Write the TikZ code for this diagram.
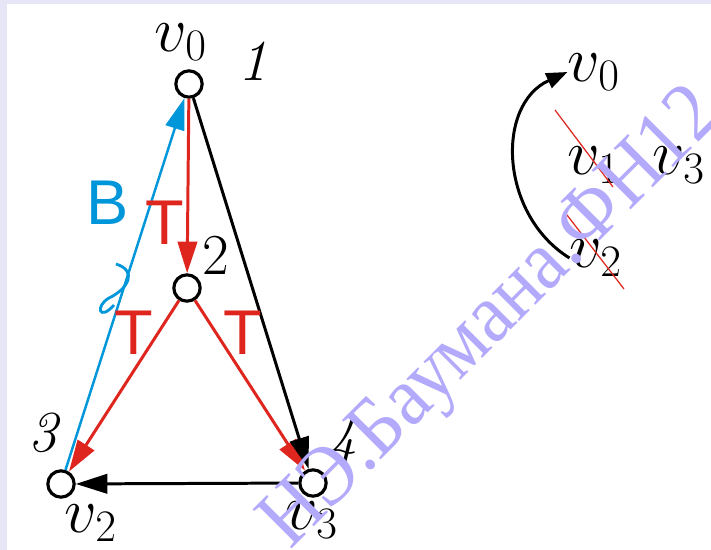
\RequirePackage{fix-cm}
\documentclass[tikz,border=0pt]{standalone}
\usepackage{fontspec}
\newfontfamily\labelsans{Liberation Sans}
\newfontfamily\markserif{Liberation Serif}
\usepackage{tikz}
\usetikzlibrary{arrows.meta, positioning}
\definecolor{treered}{RGB}{222,38,30}
\definecolor{backblue}{RGB}{0,150,218}
\definecolor{markviolet}{RGB}{180,170,252}
\definecolor{slideframe}{RGB}{230,230,246}

\begin{document}
\begin{tikzpicture}[x=0.02cm, y=-0.02cm,
    vertex/.style={circle, draw=black, line width=1.8pt, fill=white, minimum size=15pt, inner sep=0pt},
    mlabel/.style={font=\fontsize{30}{36}\selectfont, inner sep=0pt},
    vname/.style={mlabel, scale=1.22},
    elabel/.style={font=\labelsans\fontsize{36}{40}\selectfont, inner sep=0pt},
    arrow/.style={-{Triangle[length=18pt, width=11pt]}, line width=1.7pt},
    tree/.style={arrow, treered},
    back/.style={arrow, backblue, line width=1.4pt},
    strike/.style={treered, line width=0.7pt}
]
% slide background
\useasboundingbox (0,0) rectangle (711,550);
\fill[slideframe] (0,0) rectangle (711,550);
\fill[white] (7,4) rectangle (711,550);

% vertices
\node[vertex] (v0) at (189,84) {};
\node[vertex] (n2) at (187,288) {};
\node[vertex] (v2) at (61,484) {};
\node[vertex] (v3) at (313,483) {};

% vertex names and numbers
\node[vname] (lv0) at (181,42) {$v_0$};
\node[vname] (lv2) at (91,523) {$v_2$};
\node[vname] (lv3) at (312,520) {$v_3$};
\node[mlabel, scale=1.1] (k1) at (253,61) {\textit{1}};
\node[mlabel, scale=1.1] (k2) at (216,255) {2};
\node[mlabel, scale=1.1] (k3) at (45,433) {\textit{3}};
\node[mlabel, scale=1.1] (k4) at (343,440) {\textit{4}};

% edges
\draw[back] (v2) -- (v0);
\draw[tree] (v0) -- (n2);
\draw[tree] (n2) -- (v2);
\draw[tree] (n2) -- (v3);
\draw[arrow] (v0) -- (v3);
\draw[arrow] (v3) -- (v2);
\draw[backblue, line width=1.6pt] (116,264) .. controls (138,271) and (128,289) .. (109,298)
    .. controls (95,306) and (99,322) .. (114,305);

\node[elabel, text=backblue] (lb) at (108,203) {B};
\node[elabel, text=treered] (lt1) at (165,223) {T};
\node[elabel, text=treered] (lt2) at (134,333) {T};
\node[elabel, text=treered] (lt3) at (243,333) {T};

% stack on the right
\node[vname] (rv0) at (594,72) {$v_0$};
\node[vname] (rv1) at (594,165) {$v_1$};
\node[vname] (rv3) at (679,165) {$v_3$};
\node[vname] (rv2) at (596,258) {$v_2$};
\draw[-{Triangle[length=12pt, width=9pt]}, line width=1.7pt] (rv2.west) .. controls (500,215) and (495,105) .. (rv0.west);
\draw[strike] (555,110) -- (613,187);
\draw[strike] (567,215) -- (624,289);

% watermark
\node[font=\markserif\fontsize{48}{52}\selectfont, text=markviolet, rotate=45, xscale=0.92, anchor=base, inner sep=0pt] (wm) at (507,334) {НЭ.Баумана.ФН12};
\end{tikzpicture}
\end{document}
